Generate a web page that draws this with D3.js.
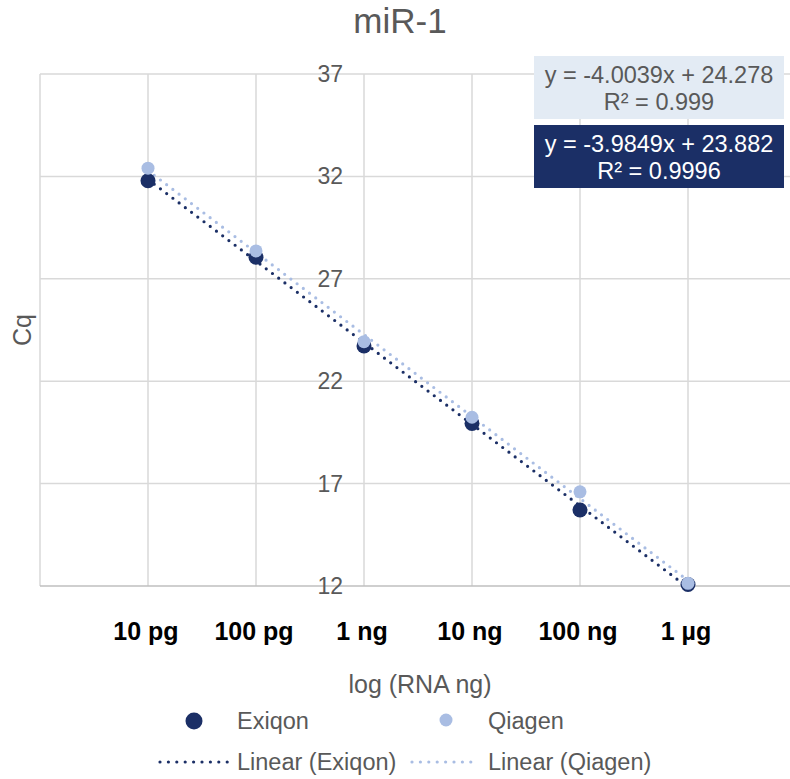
<!DOCTYPE html>
<html>
<head>
<meta charset="utf-8">
<script src="https://cdn.jsdelivr.net/npm/d3@7"></script>
<style>
  body { margin: 0; background: #fff; }
  text { font-family: "Liberation Sans", Arial, sans-serif; }
</style>
</head>
<body>
<div id="chart"></div>
<script>
// Data
const categories = ['10 pg', '100 pg', '1 ng', '10 ng', '100 ng', '1 µg'];
const logNg = [-2, -1, 0, 1, 2, 3];
const exiqon = [31.79, 28.05, 23.72, 19.94, 15.71, 12.07];
const qiagen = [32.40, 28.36, 23.93, 20.24, 16.60, 12.13];
const yTicks = [12, 17, 22, 27, 32, 37];

// Trendline coefficients (as printed on the chart)
const exiqonFit = [-3.9849, 23.882, 0.9996];
const qiagenFit = [-4.0039, 24.278, 0.999];

const width = 790, height = 779;
const darkBlue = '#1b2f66', lightBlue = '#a9bde3', grey = '#595959';

let svg = d3.select('#chart')
  .append('svg')
    .attr('width', width)
    .attr('height', height);

// Scales
let x = d3.scaleLinear().domain([-3, 4]).range([40, 796]);
let y = d3.scaleLinear().domain([12, 37]).range([586, 74]);

// Title
svg.append('text')
  .attr('x', 400).attr('y', 33)
  .attr('text-anchor', 'middle')
  .style('font-size', '35px')
  .style('fill', grey)
  .text('miR-1');

// Gridlines
svg.append('g')
  .selectAll('line')
  .data(d3.range(-3, 5))
  .enter().append('line')
    .attr('x1', d => x(d)).attr('x2', d => x(d))
    .attr('y1', y(37)).attr('y2', y(12))
    .style('stroke', '#d9d9d9')
    .style('stroke-width', 1.5);
svg.append('g')
  .selectAll('line')
  .data(yTicks.slice(1))
  .enter().append('line')
    .attr('x1', x(-3)).attr('x2', x(4))
    .attr('y1', d => y(d)).attr('y2', d => y(d))
    .style('stroke', '#d9d9d9')
    .style('stroke-width', 1.5);

// x axis line (Cq = 12)
svg.append('line')
  .attr('x1', x(-3)).attr('x2', x(4))
  .attr('y1', y(12)).attr('y2', y(12))
  .style('stroke', '#bfbfbf')
  .style('stroke-width', 1.5);

// y tick labels sit next to the axis crossing at 1 ng
svg.append('g')
  .selectAll('text')
  .data(yTicks)
  .enter().append('text')
    .attr('x', x(0) - 21)
    .attr('y', d => y(d) + 8)
    .attr('text-anchor', 'end')
    .style('font-size', '23px')
    .style('fill', grey)
    .text(d => d);

// x category labels
svg.append('g')
  .selectAll('text')
  .data(categories)
  .enter().append('text')
    .attr('x', (d, i) => x(logNg[i]) - 2)
    .attr('y', 640)
    .attr('text-anchor', 'middle')
    .style('font-size', '25px')
    .style('font-weight', 'bold')
    .style('fill', '#000')
    .text(d => d);

// Axis titles
svg.append('text')
  .attr('x', 420).attr('y', 693)
  .attr('text-anchor', 'middle')
  .style('font-size', '25px')
  .style('fill', grey)
  .text('log (RNA ng)');
svg.append('text')
  .attr('transform', 'translate(31,330) rotate(-90)')
  .attr('text-anchor', 'middle')
  .style('font-size', '25px')
  .style('fill', grey)
  .text('Cq');

// Trendlines
let line = d3.line()
  .x(d => x(d[0]))
  .y(d => y(d[1]));
function trend(fit) {
  let x0 = d3.min(logNg), x1 = d3.max(logNg);
  return [[x0, fit[0] * x0 + fit[1]], [x1, fit[0] * x1 + fit[1]]];
}
svg.append('path')
  .datum(trend(exiqonFit))
  .attr('d', line)
  .style('fill', 'none')
  .style('stroke', darkBlue)
  .style('stroke-width', 3.2)
  .style('stroke-linecap', 'round')
  .style('stroke-dasharray', '0 7.8');
svg.append('path')
  .datum(trend(qiagenFit))
  .attr('d', line)
  .style('fill', 'none')
  .style('stroke', lightBlue)
  .style('stroke-width', 3.2)
  .style('stroke-linecap', 'round')
  .style('stroke-dasharray', '0 7.8');

// Points
svg.append('g')
  .selectAll('circle')
  .data(exiqon)
  .enter().append('circle')
    .attr('cx', (d, i) => x(logNg[i]))
    .attr('cy', d => y(d))
    .attr('r', 7.5)
    .style('fill', darkBlue);
svg.append('g')
  .selectAll('circle')
  .data(qiagen)
  .enter().append('circle')
    .attr('cx', (d, i) => x(logNg[i]))
    .attr('cy', d => y(d))
    .attr('r', 6.5)
    .style('fill', lightBlue);

// Equation labels
function eqBox(fit, top, fill, color) {
  let g = svg.append('g');
  g.append('rect')
    .attr('x', 534).attr('y', top)
    .attr('width', 250).attr('height', 63)
    .style('fill', fill);
  g.append('text')
    .attr('x', 659).attr('y', top + 27)
    .attr('text-anchor', 'middle')
    .style('font-size', '23.5px')
    .style('fill', color)
    .text('y = ' + fit[0] + 'x + ' + fit[1]);
  g.append('text')
    .attr('x', 659).attr('y', top + 54)
    .attr('text-anchor', 'middle')
    .style('font-size', '23.5px')
    .style('fill', color)
    .text('R² = ' + fit[2]);
}
eqBox(qiagenFit, 56, '#e3ebf4', grey);
eqBox(exiqonFit, 125, darkBlue, '#fff');

// Legend
let legend = svg.append('g');
legend.append('circle')
  .attr('cx', 194).attr('cy', 721).attr('r', 8.5)
  .style('fill', darkBlue);
legend.append('circle')
  .attr('cx', 446).attr('cy', 720).attr('r', 6.5)
  .style('fill', lightBlue);
[[160, 228, darkBlue], [412, 479, lightBlue]].forEach(s => {
  legend.append('line')
    .attr('x1', s[0]).attr('x2', s[1])
    .attr('y1', 762).attr('y2', 762)
    .style('stroke', s[2])
    .style('stroke-width', 3.2)
    .style('stroke-linecap', 'round')
    .style('stroke-dasharray', '0 8.4');
});
[['Exiqon', 237, 729], ['Qiagen', 488, 729],
 ['Linear (Exiqon)', 237, 770], ['Linear (Qiagen)', 488, 770]].forEach(t => {
  legend.append('text')
    .attr('x', t[1]).attr('y', t[2])
    .style('font-size', '23.5px')
    .style('fill', grey)
    .text(t[0]);
});
</script>
</body>
</html>
